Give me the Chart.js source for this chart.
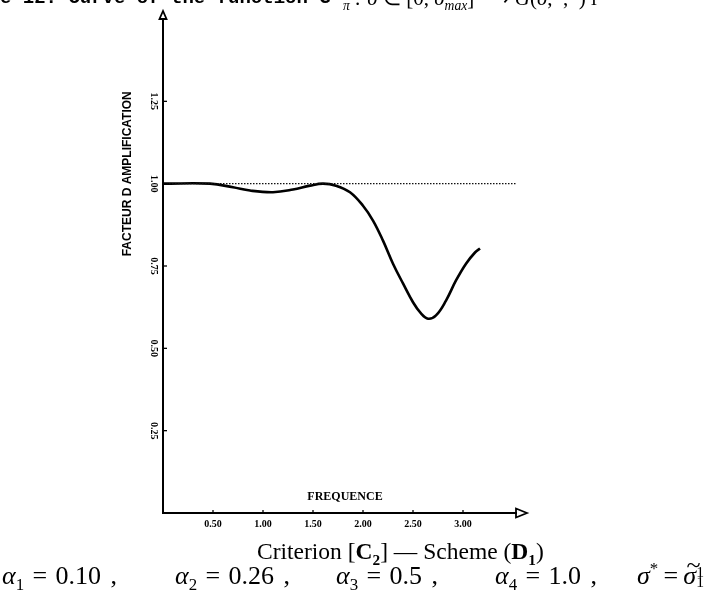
<!DOCTYPE html>
<html>
<head>
<meta charset="utf-8">
<script src="https://cdn.jsdelivr.net/npm/chart.js@4.4.0/dist/chart.umd.min.js"></script>
<style>
  body { margin: 0; background: #fff; }
  #wrap { position: relative; width: 709px; height: 599px; overflow: hidden; background: #fff; }
  #wrap canvas { position: absolute; left: 0; top: 0; }
  .txt { position: absolute; white-space: pre; color: #000; }
  #head1 { left: 0; top: -11px; font: bold 19px 'Liberation Mono', monospace; line-height: 19px; }
  #head2 { left: 343px; top: -12px; font: 21px 'Liberation Serif', serif; line-height: 21px; }
  #cap1 { left: 257px; top: 539px; font: 23.5px 'Liberation Serif', serif; line-height: 24px; }
  .cap2 { top: 563px; font: 26px 'Liberation Serif', serif; line-height: 26px; }
  .eq { margin: 0 0.32em; }
  .eq2 { margin: 0 0.2em; }
  .cm { margin-left: 0.12em; }
  sub, sup { font-size: 65%; line-height: 0; }
  .tl { position: relative; display: inline-block; }
  .tl .tilde { position: absolute; left: 0.12em; top: -0.42em; font-style: normal; }
  .st { display: inline-block; vertical-align: -0.2em; line-height: 0.62em; font-size: 60%; text-align: left; }
</style>
</head>
<body>
<div id="wrap">
  <canvas id="chart" width="709" height="599"></canvas>
  <div class="txt" id="head1">e 12. Curve of the function G</div>
  <div class="txt" id="head2"><i><sub>π</sub> : σ</i> ∈ [0, <i>σ<sub>max</sub></i>] ⟶ <i>G</i>(<i>σ</i>, <i>·</i>, <i>·</i>) i</div>
  <div class="txt" id="cap1">Criterion [<b>C<sub>2</sub></b>] — Scheme (<b>D<sub>1</sub></b>)</div>
  <div class="txt cap2" style="left:2px"><i>α</i><sub>1</sub><span class="eq">=</span>0.10 <span class="cm">,</span></div>
  <div class="txt cap2" style="left:175px"><i>α</i><sub>2</sub><span class="eq">=</span>0.26 <span class="cm">,</span></div>
  <div class="txt cap2" style="left:336px"><i>α</i><sub>3</sub><span class="eq">=</span>0.5 <span class="cm">,</span></div>
  <div class="txt cap2" style="left:495px"><i>α</i><sub>4</sub><span class="eq">=</span>1.0 <span class="cm">,</span></div>
  <div class="txt cap2" style="left:637px"><i>σ</i><sup>*</sup><span class="eq2">=</span><span class="tl"><i>σ</i><span class="tilde">~</span></span><span class="st">1<br>1</span></div>
</div>
<script>
// amplification factor
const freq = [0, 0.47, 0.70, 0.87, 1.10, 1.30, 1.47, 1.60, 1.73, 1.87, 2.00, 2.10, 2.20, 2.30, 2.40, 2.50, 2.58, 2.65, 2.73, 2.83, 2.93, 3.03, 3.12, 3.17]
const amp = [1.0, 1.0, 0.989, 0.979, 0.974, 0.982, 0.994, 1.0, 0.994, 0.974, 0.933, 0.888, 0.827, 0.757, 0.697, 0.640, 0.606, 0.590, 0.600, 0.645, 0.706, 0.757, 0.791, 0.803]

// dotted reference level
const refFreq = [0, 3.54]
const refAmp = [1, 1]

const xTicks = [0.5, 1.0, 1.5, 2.0, 2.5, 3.0]
const xTickLabels = ['0.50', '1.00', '1.50', '2.00', '2.50', '3.00']
const yTicks = [0.25, 0.5, 0.75, 1.0, 1.25]
const yTickLabels = ['0.25', '0.50', '0.75', '1.00', '1.25']

const xTitle = 'FREQUENCE'
const yTitle = 'FACTEUR D AMPLIFICATION'

const decor = {
  id: 'decor',
  afterDraw(chart) {
    const { ctx, chartArea: a, scales: { x, y } } = chart
    ctx.save()
    ctx.strokeStyle = '#000'
    ctx.fillStyle = '#000'

    // arrow heads
    ctx.lineWidth = 1.8
    ctx.beginPath()
    ctx.moveTo(a.left, a.top - 8)
    ctx.lineTo(a.left - 3.5, a.top)
    ctx.lineTo(a.left + 3.5, a.top)
    ctx.closePath()
    ctx.stroke()
    ctx.beginPath()
    ctx.moveTo(a.right + 11, a.bottom)
    ctx.lineTo(a.right, a.bottom - 4.5)
    ctx.lineTo(a.right, a.bottom + 4.5)
    ctx.closePath()
    ctx.stroke()

    // inward tick marks
    ctx.lineWidth = 1.3
    yTicks.forEach(v => {
      const py = y.getPixelForValue(v)
      ctx.beginPath()
      ctx.moveTo(a.left, py)
      ctx.lineTo(a.left + 4, py)
      ctx.stroke()
    })
    xTicks.forEach(v => {
      const px = x.getPixelForValue(v)
      ctx.beginPath()
      ctx.moveTo(px, a.bottom)
      ctx.lineTo(px, a.bottom - 3)
      ctx.stroke()
    })

    ctx.font = 'bold 10px "Liberation Serif"'
    ctx.textAlign = 'center'
    ctx.textBaseline = 'middle'
    // x tick labels
    xTicks.forEach((v, i) => {
      ctx.fillText(xTickLabels[i], x.getPixelForValue(v), a.bottom + 11)
    })
    // y tick labels, turned to read downwards
    yTicks.forEach((v, i) => {
      ctx.save()
      ctx.translate(a.left - 9, y.getPixelForValue(v))
      ctx.rotate(Math.PI / 2)
      ctx.fillText(yTickLabels[i], 0, 0)
      ctx.restore()
    })

    // axis titles
    ctx.font = 'bold 12px "Liberation Sans"'
    ctx.save()
    ctx.translate(a.left - 35, y.getPixelForValue(1.03))
    ctx.rotate(-Math.PI / 2)
    ctx.fillText(yTitle, 0, 0)
    ctx.restore()
    ctx.font = 'bold 12px "Liberation Serif"'
    ctx.fillText(xTitle, x.getPixelForValue(1.82), a.bottom - 16)
    ctx.restore()
  }
}

const ctx = document.getElementById('chart').getContext('2d')
const chart = new Chart(ctx, {
  type: 'scatter',
  data: {
    datasets: [
      {
        data: refFreq.map((f, i) => ({ x: f, y: refAmp[i] })),
        showLine: true,
        borderColor: '#111',
        borderWidth: 1.2,
        borderDash: [1.5, 1.5],
        pointRadius: 0
      },
      {
        data: freq.map((f, i) => ({ x: f, y: amp[i] })),
        showLine: true,
        borderColor: '#000',
        borderWidth: 2.6,
        tension: 0.4,
        pointRadius: 0
      }
    ]
  },
  options: {
    responsive: false,
    animation: false,
    layout: { padding: { left: 163, right: 193, top: 19, bottom: 86 } },
    plugins: { legend: { display: false }, tooltip: { enabled: false } },
    scales: {
      x: {
        type: 'linear',
        min: 0,
        max: 3.53,
        afterFit(s) { s.height = 0 },
        afterBuildTicks(s) { s.ticks = xTicks.map(v => ({ value: v })) },
        grid: { display: true, drawOnChartArea: false, drawTicks: false },
        border: { display: true, color: '#000', width: 2 },
        ticks: { display: false }
      },
      y: {
        type: 'linear',
        min: 0,
        max: 1.5,
        afterFit(s) { s.width = 0 },
        afterBuildTicks(s) { s.ticks = yTicks.map(v => ({ value: v })) },
        grid: { display: true, drawOnChartArea: false, drawTicks: false },
        border: { display: true, color: '#000', width: 2 },
        ticks: { display: false }
      }
    }
  },
  plugins: [decor]
})
</script>
</body>
</html>
